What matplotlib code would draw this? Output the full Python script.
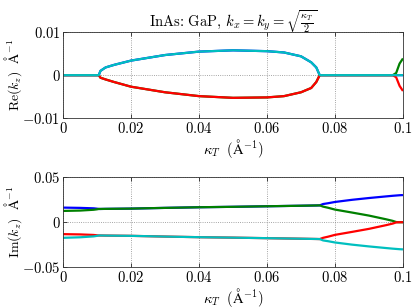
import matplotlib
matplotlib.use("Agg")
import matplotlib.pyplot as plt

plt.rcParams['mathtext.fontset'] = 'cm'
plt.rcParams['font.family'] = ['cmr10']
plt.rcParams['axes.formatter.use_mathtext'] = True

# kappa_T samples (1/Angstrom)
kT = [0, 0.005, 0.009, 0.010, 0.0105, 0.011, 0.0125, 0.015, 0.02, 0.03, 0.04, 0.05,
      0.06, 0.065, 0.07, 0.073, 0.0745, 0.0755, 0.0765, 0.078, 0.08, 0.085, 0.09,
      0.095, 0.097, 0.098, 0.099, 0.0995, 0.1]

# Re(kz) for the four roots (blue hides under cyan, green under red while paired)
re_blue = [0, 0, 0, 0, 0, 0.0010, 0.0018, 0.0024, 0.0034, 0.0047, 0.0055, 0.0058,
           0.0056, 0.0053, 0.0044, 0.0030, 0.0018, 0, 0, 0, 0, 0, 0,
           0, 0, 0, 0, 0, 0]
re_green = [0, 0, 0, 0, 0, -0.0006, -0.0010, -0.0016, -0.0027, -0.0040, -0.0049, -0.0053,
            -0.0052, -0.0049, -0.0040, -0.0030, -0.0016, 0, 0, 0, 0, 0, 0,
            0, 0, 0.0005, 0.0027, 0.0033, 0.0039]
re_red = [0, 0, 0, 0, 0, -0.0006, -0.0010, -0.0016, -0.0027, -0.0040, -0.0049, -0.0053,
          -0.0052, -0.0049, -0.0040, -0.0030, -0.0016, 0, 0, 0, 0, 0, 0,
          0, 0, -0.0005, -0.0025, -0.0031, -0.0037]
re_cyan = [0, 0, 0, 0, 0, 0.0010, 0.0018, 0.0024, 0.0034, 0.0047, 0.0055, 0.0058,
           0.0056, 0.0053, 0.0044, 0.0030, 0.0018, 0, 0, 0, 0, 0, 0,
           0, 0, 0, 0, 0, 0]

# Im(kz) for the four roots
im_blue = [0.0163, 0.0160, 0.0155, 0.0151, 0.0148, 0.0148, 0.0149, 0.0150, 0.0152, 0.0160,
           0.0167, 0.0172, 0.0178, 0.0181, 0.0184, 0.0186, 0.0187, 0.0188, 0.0203, 0.0212,
           0.0226, 0.0250, 0.0270, 0.0288, 0.0295, 0.0298, 0.0301, 0.0302, 0.0303]
im_green = [0.0126, 0.0130, 0.0139, 0.0144, 0.0148, 0.0148, 0.0149, 0.0150, 0.0152, 0.0160,
            0.0167, 0.0172, 0.0178, 0.0181, 0.0184, 0.0186, 0.0187, 0.0188, 0.0174, 0.0161,
            0.0141, 0.0108, 0.0074, 0.0033, 0.0015, 0.0002, 0, 0, 0]
im_red = [-0.0133, -0.0136, -0.0142, -0.0146, -0.0148, -0.0148, -0.0149, -0.0150, -0.0152, -0.0160,
          -0.0167, -0.0172, -0.0178, -0.0181, -0.0184, -0.0186, -0.0187, -0.0188, -0.0174, -0.0161,
          -0.0141, -0.0108, -0.0074, -0.0033, -0.0015, -0.0002, 0, 0, 0]
im_cyan = [-0.0174, -0.0168, -0.0158, -0.0152, -0.0148, -0.0148, -0.0149, -0.0150, -0.0152, -0.0160,
           -0.0167, -0.0172, -0.0178, -0.0181, -0.0184, -0.0186, -0.0187, -0.0188, -0.0203, -0.0212,
           -0.0226, -0.0250, -0.0270, -0.0288, -0.0295, -0.0298, -0.0301, -0.0302, -0.0303]

xticks = [0, 0.02, 0.04, 0.06, 0.08, 0.1]
xticklabels = ['$0$', '$0.02$', '$0.04$', '$0.06$', '$0.08$', '$0.1$']
re_ticks = [-0.01, 0, 0.01]
re_ticklabels = ['$-0.01$', '$0$', '$0.01$']
im_ticks = [-0.05, 0, 0.05]
im_ticklabels = ['$-0.05$', '$0$', '$0.05$']

colors = ['#0000ff', '#008000', '#ff0000', '#00bfbf']

fig = plt.figure(figsize=(4.15, 3.08), dpi=100)
ax1 = fig.add_axes([0.152, 0.617, 0.819, 0.278])
ax2 = fig.add_axes([0.152, 0.133, 0.819, 0.291])

# only the Angstrom sign is plain text, so STIX supplies it; the rest is cm math
for ax, series, ticks, labels, ylab in [
        (ax1, [re_blue, re_green, re_red, re_cyan], re_ticks, re_ticklabels, r'$\mathrm{Re}(k_z)\ \ $Å$^{-1}$'),
        (ax2, [im_blue, im_green, im_red, im_cyan], im_ticks, im_ticklabels, r'$\mathrm{Im}(k_z)\ \ $Å$^{-1}$')]:
    for vals, c in zip(series, colors):
        ax.plot(kT, vals, color=c, lw=1.6, solid_capstyle='butt')
    ax.set_xlim(0, 0.1)
    ax.set_ylim(ticks[0], ticks[-1])
    ax.set_xticks(xticks)
    ax.set_xticklabels(xticklabels, fontsize=10.5)
    ax.set_yticks(ticks)
    ax.set_yticklabels(labels, fontsize=10.5)
    ax.set_ylabel(ylab, fontsize=10, family='STIXGeneral')
    ax.yaxis.set_label_coords(-0.115, 0.5)
    ax.set_xlabel(r'$\kappa_T\ \ ($Å$^{-1})$', fontsize=10.5, labelpad=1, family='STIXGeneral')
    ax.grid(True, linestyle=':', color='#888888', linewidth=0.6)
    ax.tick_params(direction='in', top=True, right=True, length=3, width=0.5, pad=2)
    for s in ax.spines.values():
        s.set_linewidth(0.6)
        s.set_color('#333333')

ax1.set_title(r'InAs: GaP, $k_x = k_y = \sqrt{\frac{\kappa_T}{2}}$', fontsize=10.5, pad=4)

fig.savefig('out.png', dpi=100)
